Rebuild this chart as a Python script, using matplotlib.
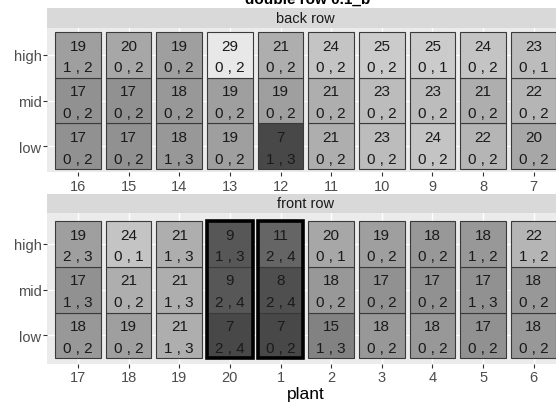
import matplotlib
matplotlib.use("Agg")
import matplotlib.pyplot as plt
from matplotlib.patches import Rectangle
import numpy as np

plt.rcParams['font.family'] = ['Liberation Sans', 'DejaVu Sans']

# ---- data ----
rows = ["low", "mid", "high"]

back_plants = ["16", "15", "14", "13", "12", "11", "10", "9", "8", "7"]
back_high = [19, 20, 19, 29, 21, 24, 25, 25, 24, 23]
back_high_lbl = ["1 , 2", "0 , 2", "0 , 2", "0 , 2", "0 , 2", "0 , 2", "0 , 2", "0 , 1", "0 , 2", "0 , 1"]
back_mid = [17, 17, 18, 19, 19, 21, 23, 23, 21, 22]
back_mid_lbl = ["0 , 2"] * 10
back_low = [17, 17, 18, 19, 7, 21, 23, 24, 22, 20]
back_low_lbl = ["0 , 2", "0 , 2", "1 , 3", "0 , 2", "1 , 3", "0 , 2", "0 , 2", "0 , 2", "0 , 2", "0 , 2"]

front_plants = ["17", "18", "19", "20", "1", "2", "3", "4", "5", "6"]
front_high = [19, 24, 21, 9, 11, 20, 19, 18, 18, 22]
front_high_lbl = ["2 , 3", "0 , 1", "1 , 3", "1 , 3", "2 , 4", "0 , 1", "0 , 2", "0 , 2", "1 , 2", "1 , 2"]
front_mid = [17, 21, 21, 9, 8, 18, 17, 17, 17, 18]
front_mid_lbl = ["1 , 3", "0 , 2", "1 , 3", "2 , 4", "2 , 4", "0 , 2", "0 , 2", "0 , 2", "1 , 3", "0 , 2"]
front_low = [18, 19, 21, 7, 7, 15, 18, 18, 17, 18]
front_low_lbl = ["0 , 2", "0 , 2", "1 , 3", "2 , 4", "0 , 2", "1 , 3", "0 , 2", "0 , 2", "0 , 2", "0 , 2"]

highlight_plants = ["20", "1"]

title = "double row 0.1_b"
xlabel = "plant"

# ---- layout helpers ----
W, H = 556, 410
fig = plt.figure(figsize=(W / 100, H / 100), dpi=100)
fig.patch.set_facecolor("white")


def rect(l, t, r, b):
    return [l / W, 1 - b / H, (r - l) / W, (b - t) / H]


vmin, vmax = 7, 29
g_lo, g_hi = 72, 232


def fill(v):
    g = (g_lo + (v - vmin) / (vmax - vmin) * (g_hi - g_lo)) / 255.0
    return (g, g, g)


def panel(axpos, ylim, plants, vals, lbls, highlights):
    ax = fig.add_axes(axpos)
    ax.set_facecolor("#EBEBEB")
    ax.set_xlim(-0.612, 9.612)
    ax.set_ylim(*ylim)
    x = np.arange(len(plants))
    for r, (v, lb) in enumerate(zip(vals, lbls)):
        ax.bar(x, 1.0, bottom=r - 0.5, width=0.9, color=[fill(a) for a in v],
               edgecolor="#3a3a3a", linewidth=0.8, zorder=2)
        for xi, a, s in zip(x, v, lb):
            ax.text(xi, r + 0.2, str(a), ha="center", va="center",
                    fontsize=11, color="#1a1a1a", zorder=4)
            ax.text(xi, r - 0.27, s, ha="center", va="center",
                    fontsize=11, color="#1a1a1a", zorder=4)
    for hp in highlights:
        if hp in plants:
            xi = plants.index(hp)
            ax.add_patch(Rectangle((xi - 0.45, -0.5), 0.9, 3.0, fill=False,
                                   edgecolor="black", linewidth=2.6, zorder=5))
    ax.set_xticks(x)
    ax.set_xticklabels(plants)
    ax.set_yticks(range(3))
    ax.set_yticklabels(rows)
    ax.grid(True, color="white", linewidth=1.0, zorder=0)
    ax.set_axisbelow(True)
    for s in ax.spines.values():
        s.set_visible(False)
    ax.tick_params(axis="both", length=3, width=0.8, color="#333333",
                   labelcolor="#4D4D4D", labelsize=10.5)
    ax.tick_params(axis="x", pad=1.5)
    ax.tick_params(axis="y", pad=1)
    return ax


ax1 = panel(rect(47, 29, 564.7, 173.3), (-0.572, 2.588), back_plants,
            [back_low, back_mid, back_high],
            [back_low_lbl, back_mid_lbl, back_high_lbl], [])
ax2 = panel(rect(47, 214, 564.7, 365), (-0.625, 2.675), front_plants,
            [front_low, front_mid, front_high],
            [front_low_lbl, front_mid_lbl, front_high_lbl], highlight_plants)

# strips
for (t, b, txt) in [(8.5, 29, "back row"), (195, 214, "front row")]:
    fig.patches.append(Rectangle((47 / W, 1 - b / H), (564.7 - 47) / W, (b - t) / H,
                                 transform=fig.transFigure, facecolor="#D9D9D9",
                                 edgecolor="none", zorder=0))
    fig.text(305.5 / W, 1 - ((t + b) / 2) / H, txt, ha="center", va="center",
             fontsize=10.5, color="#1A1A1A")

fig.text(308 / W, 1 - 4 / H, title, ha="center", va="baseline",
         fontsize=11, fontweight="bold", color="black")
fig.text(306 / W, 1 - 399 / H, xlabel, ha="center", va="baseline",
         fontsize=12.5, color="black")

fig.savefig("out.png", dpi=100)
